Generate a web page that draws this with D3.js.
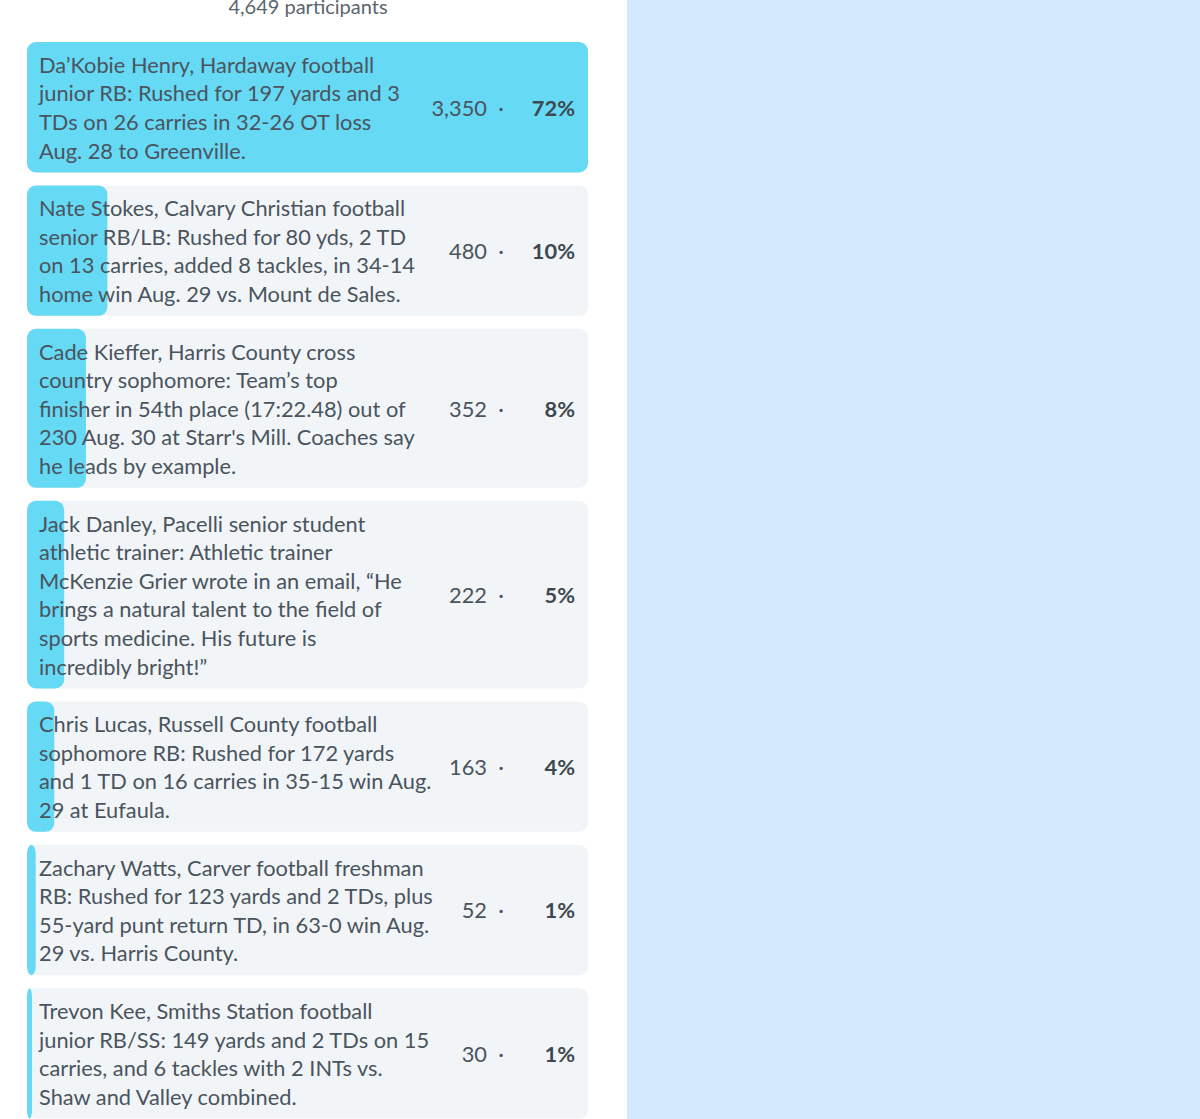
<!DOCTYPE html>
<html><head><meta charset="utf-8">
<script src="https://cdn.jsdelivr.net/npm/d3@7"></script>
<style>
html,body{margin:0;padding:0;background:#fff;overflow:hidden;}
svg{display:block;}
</style></head>
<body>
<svg id="chart" width="1200" height="1119"></svg>
<script>
const totalLabel = "4,649 participants";
const labelLines = [
  ["Da\u2019Kobie Henry, Hardaway football","junior RB: Rushed for 197 yards and 3","TDs on 26 carries in 32-26 OT loss","Aug. 28 to Greenville."],
  ["Nate Stokes, Calvary Christian football","senior RB/LB: Rushed for 80 yds, 2 TD","on 13 carries, added 8 tackles, in 34-14","home win Aug. 29 vs. Mount de Sales."],
  ["Cade Kieffer, Harris County cross","country sophomore: Team\u2019s top","finisher in 54th place (17:22.48) out of","230 Aug. 30 at Starr's Mill. Coaches say","he leads by example."],
  ["Jack Danley, Pacelli senior student","athletic trainer: Athletic trainer","McKenzie Grier wrote in an email, \u201cHe","brings a natural talent to the field of","sports medicine. His future is","incredibly bright!\u201d"],
  ["Chris Lucas, Russell County football","sophomore RB: Rushed for 172 yards","and 1 TD on 16 carries in 35-15 win Aug.","29 at Eufaula."],
  ["Zachary Watts, Carver football freshman","RB: Rushed for 123 yards and 2 TDs, plus","55-yard punt return TD, in 63-0 win Aug.","29 vs. Harris County."],
  ["Trevon Kee, Smiths Station football","junior RB/SS: 149 yards and 2 TDs on 15","carries, and 6 tackles with 2 INTs vs.","Shaw and Valley combined."]
];
const votes = [3350, 480, 352, 222, 163, 52, 30];
const percents = [72, 10, 8, 5, 4, 1, 1];

const svg = d3.select("#chart");
const W = 1200, H = 1119;
const cardX = 27, cardW = 561;
const lineH = 28.6, padV = 16, gap = 13, top0 = 42;
const font = "Lato, 'Open Sans', sans-serif";
const fs = 21.8;

// right panel
svg.append("rect").attr("x", 627).attr("y", 0).attr("width", W - 627).attr("height", H).attr("fill", "#d4e8fd");

// header
svg.append("text").attr("x", 308).attr("y", 14).attr("text-anchor", "middle")
  .attr("font-family", font).attr("font-size", 20).attr("fill", "#5b656e").text(totalLabel);

const x = d3.scaleLinear().domain([0, d3.max(votes)]).range([0, cardW]);

let y = top0;
const rows = labelLines.map((lines, i) => {
  const h = lines.length * lineH + padV;
  const r = {lines, v: votes[i], p: percents[i], y, h};
  y += h + gap;
  return r;
});

const g = svg.selectAll("g.row").data(rows).join("g").attr("class", "row")
  .attr("transform", d => `translate(0,${d.y})`);

g.append("rect").attr("x", cardX).attr("width", cardW).attr("height", d => d.h)
  .attr("rx", 9).attr("fill", "#f2f5f7");
g.append("rect").attr("x", cardX).attr("width", d => x(d.v)).attr("height", d => d.h)
  .attr("rx", 9).attr("fill", "#66d9f5");

g.append("text").attr("font-family", font).attr("font-size", fs).attr("fill", "#4a545e")
  .selectAll("tspan").data(d => d.lines.map((t, j) => ({t, j, n: d.lines.length, h: d.h})))
  .join("tspan").attr("x", 39)
  .attr("y", d => d.h / 2 + (d.j - (d.n - 1) / 2) * lineH + 8.5)
  .text(d => d.t);

g.append("text").attr("x", 487).attr("y", d => d.h / 2 + 8.5).attr("text-anchor", "end")
  .attr("font-family", font).attr("font-size", fs).attr("fill", "#4a545e")
  .text(d => d3.format(",")(d.v));
g.append("text").attr("x", 501).attr("y", d => d.h / 2 + 8.5).attr("text-anchor", "middle")
  .attr("font-family", font).attr("font-size", fs).attr("fill", "#4a545e").text("\u00b7");
g.append("text").attr("x", 575).attr("y", d => d.h / 2 + 8.5).attr("text-anchor", "end")
  .attr("font-family", font).attr("font-size", fs).attr("font-weight", "bold").attr("fill", "#3e4850")
  .text(d => d.p + "%");
</script>
</body></html>
